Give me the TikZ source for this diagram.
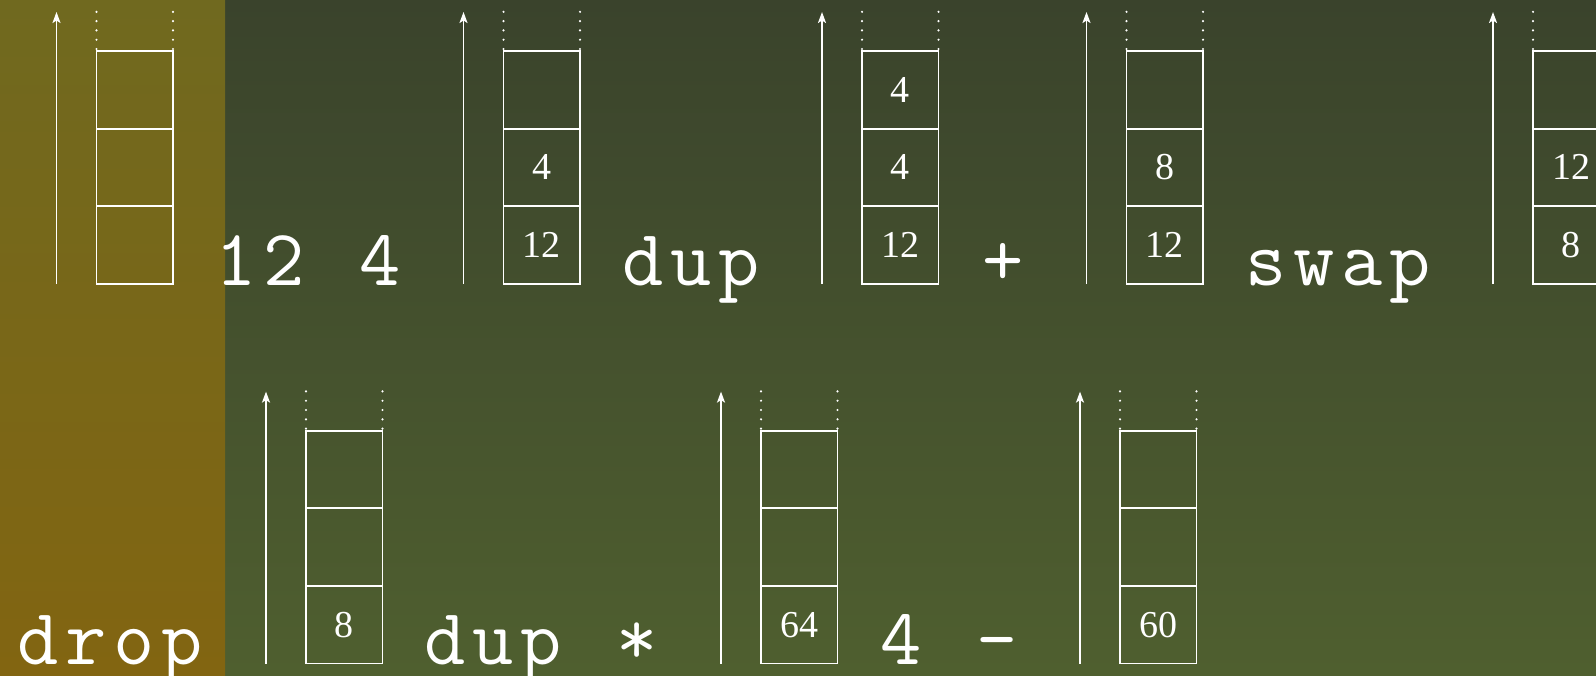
\documentclass[tikz,border=0pt]{standalone}
\usepackage{fontspec}
\setmainfont{Liberation Serif}
\usetikzlibrary{arrows.meta}
\definecolor{bgtop}{RGB}{58,67,44}
\definecolor{bgbot}{RGB}{79,95,47}
\definecolor{striptop}{RGB}{112,105,31}
\definecolor{stripbot}{RGB}{130,101,17}
\newcommand\mch[1]{\makebox[48pt][c]{#1}}
\tikzset{
  cell/.style={draw=white, line width=1.8pt, minimum width=76.5pt, minimum height=77.6pt,
    inner sep=0pt, outer sep=0pt, anchor=north west, text=white,
    font=\fontsize{38}{40}\selectfont},
  stackarrow/.style={draw=white, line width=1.8pt, -{Stealth[length=11pt,width=8pt,inset=2.5pt]}},
  dots/.style={draw=white, line width=2.4pt, line cap=round, dash pattern=on 0pt off 9.3pt},
  code/.style={text=white, inner sep=0pt, outer sep=0pt, anchor=base west,
    font=\ttfamily\fontsize{80}{96}\selectfont},
}
\newcommand\stackcol[6]{%
  \node[cell] (#1-1) at (#2,#3) {\raisebox{-2pt}{#4}};
  \node[cell] (#1-2) at (#2,#3+77.6) {\raisebox{-2pt}{#5}};
  \node[cell] (#1-3) at (#2,#3+155.2) {\raisebox{-2pt}{#6}};
  \coordinate (#1-a0) at (#2-40,#3+233);
  \coordinate (#1-a1) at (#2-40,#3-39);
  \draw[stackarrow] (#1-a0) -- (#1-a1);
  \coordinate (#1-dl0) at (#2,#3-2);
  \coordinate (#1-dl1) at (#2,#3-41);
  \coordinate (#1-dr0) at (#2+76.5,#3-2);
  \coordinate (#1-dr1) at (#2+76.5,#3-41);
  \draw[dots] (#1-dl0) -- (#1-dl1);
  \draw[dots] (#1-dr0) -- (#1-dr1);
}
\begin{document}
\begin{tikzpicture}[x=1pt,y=-1pt]
  \useasboundingbox (0,0) rectangle (1596,675);
  \clip (0,0) rectangle (1596,675);
  \shade[top color=bgtop, bottom color=bgbot] (0,0) rectangle (1596,675);
  \shade[top color=striptop, bottom color=stripbot] (0,0) rectangle (225,675);
  % top row
  \stackcol{s1}{96.5}{51}{}{}{}
  \node[code] (t1) at (212,285) {\mch{1}\mch{2}\mch{ }\mch{4}};
  \stackcol{s2}{503.5}{51}{}{4}{12}
  \node[code] (t2) at (618.8,285) {\mch{d}\mch{u}\mch{p}};
  \stackcol{s3}{862}{51}{4}{4}{12}
  \node[code] (t3) at (979,285) {\mch{+}};
  \stackcol{s4}{1126.5}{51}{}{8}{12}
  \node[code] (t4) at (1242.5,285) {\mch{s}\mch{w}\mch{a}\mch{p}};
  \stackcol{s5}{1533}{51}{}{12}{8}
  % bottom row
  \node[code] (t5) at (14.5,664) {\mch{d}\mch{r}\mch{o}\mch{p}};
  \stackcol{s6}{306}{430.6}{}{}{8}
  \node[code] (t6) at (421,664) {\mch{d}\mch{u}\mch{p}\mch{ }\mch{*}};
  \stackcol{s7}{761}{430.6}{}{}{64}
  \node[code] (t7) at (877.5,664) {\mch{4}\mch{ }\mch{-}};
  \stackcol{s8}{1120}{430.6}{}{}{60}
\end{tikzpicture}
\end{document}
